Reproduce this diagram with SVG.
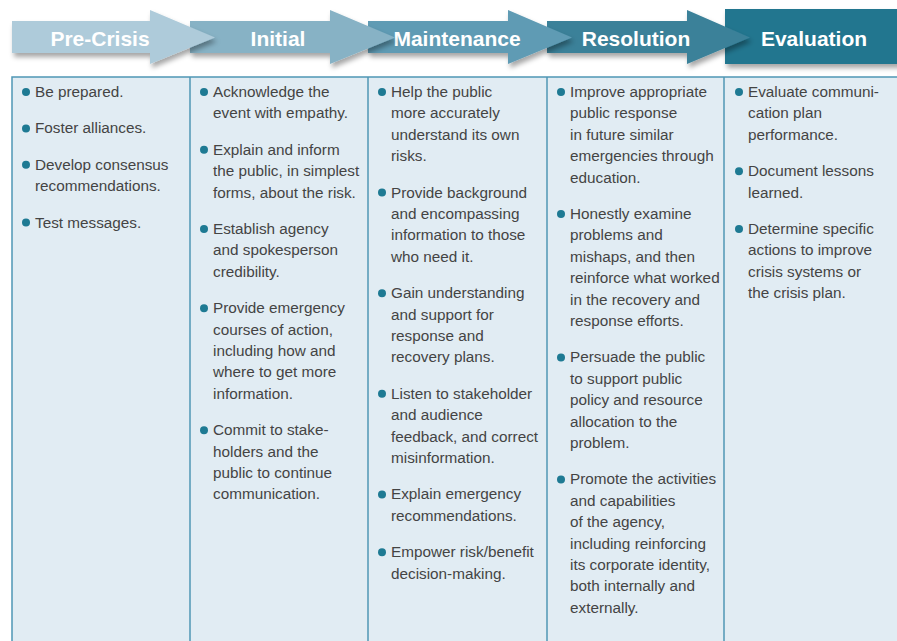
<svg xmlns="http://www.w3.org/2000/svg" width="897" height="641" viewBox="0 0 897 641">
<defs>
<filter id="sh" x="-10%" y="-20%" width="130%" height="160%">
<feDropShadow dx="2" dy="4" stdDeviation="2.5" flood-color="#000" flood-opacity="0.35"/>
</filter>
<style>
.hd{font-family:"Liberation Sans",Arial,Helvetica,sans-serif;font-size:21px;font-weight:bold;fill:#fff;text-anchor:middle}
.tx{font-family:"Liberation Sans",Arial,Helvetica,sans-serif;font-size:15.3px;fill:#444}
.bl{fill:#1e7a93}
.col{fill:#e1ecf3;stroke:#4f97b5;stroke-width:1.5}
</style>
</defs>
<rect width="897" height="641" fill="#fff"/>

<g id="table">
<rect class="col" x="12" y="77" width="900" height="580"/>
<line x1="190" y1="77" x2="190" y2="641" stroke="#4f97b5" stroke-width="1.5"/>
<line x1="368" y1="77" x2="368" y2="641" stroke="#4f97b5" stroke-width="1.5"/>
<line x1="547" y1="77" x2="547" y2="641" stroke="#4f97b5" stroke-width="1.5"/>
<line x1="724" y1="77" x2="724" y2="641" stroke="#4f97b5" stroke-width="1.5"/>
</g>

<g id="header">
<g id="evaluation">
<rect x="725" y="9" width="180" height="55" fill="#20768f" filter="url(#sh)"/>
<text class="hd" x="814" y="46">Evaluation</text>
</g>
<g id="resolution">
<polygon points="547,21 687,21 687,10 750,37.5 687,64 687,53 547,53" fill="#3a8199" filter="url(#sh)"/>
<text class="hd" x="636" y="46">Resolution</text>
</g>
<g id="maintenance">
<polygon points="368,21 508,21 508,10 572,37.5 508,64 508,53 368,53" fill="#5f9bb4" filter="url(#sh)"/>
<text class="hd" x="457" y="46">Maintenance</text>
</g>
<g id="initial">
<polygon points="190,21 330,21 330,10 395,37.5 330,64 330,53 190,53" fill="#87b2c5" filter="url(#sh)"/>
<text class="hd" x="278" y="46">Initial</text>
</g>
<g id="precrisis">
<polygon points="12,21 150,21 150,10 215,37.5 150,64 150,53 12,53" fill="#aecbda" filter="url(#sh)"/>
<text class="hd" x="100" y="46">Pre-Crisis</text>
</g>
</g>

<g id="col-precrisis">
<circle class="bl" cx="26" cy="92" r="4"/>
<circle class="bl" cx="26" cy="128.4" r="4"/>
<circle class="bl" cx="26" cy="164.8" r="4"/>
<circle class="bl" cx="26" cy="222.6" r="4"/>
<text class="tx">
<tspan x="35" y="97">Be prepared.</tspan>
<tspan x="35" y="133.4">Foster alliances.</tspan>
<tspan x="35" y="169.8">Develop consensus</tspan>
<tspan x="35" y="191.2">recommendations.</tspan>
<tspan x="35" y="227.6">Test messages.</tspan>
</text>
</g>

<g id="col-initial">
<circle class="bl" cx="204" cy="92" r="4"/>
<circle class="bl" cx="204" cy="149.8" r="4"/>
<circle class="bl" cx="204" cy="229" r="4"/>
<circle class="bl" cx="204" cy="308.2" r="4"/>
<circle class="bl" cx="204" cy="430.2" r="4"/>
<text class="tx">
<tspan x="213" y="97">Acknowledge the</tspan>
<tspan x="213" y="118.4">event with empathy.</tspan>
<tspan x="213" y="154.8">Explain and inform</tspan>
<tspan x="213" y="176.2">the public, in simplest</tspan>
<tspan x="213" y="197.6">forms, about the risk.</tspan>
<tspan x="213" y="234">Establish agency</tspan>
<tspan x="213" y="255.4">and spokesperson</tspan>
<tspan x="213" y="276.8">credibility.</tspan>
<tspan x="213" y="313.2">Provide emergency</tspan>
<tspan x="213" y="334.6">courses of action,</tspan>
<tspan x="213" y="356">including how and</tspan>
<tspan x="213" y="377.4">where to get more</tspan>
<tspan x="213" y="398.8">information.</tspan>
<tspan x="213" y="435.2">Commit to stake-</tspan>
<tspan x="213" y="456.6">holders and the</tspan>
<tspan x="213" y="478">public to continue</tspan>
<tspan x="213" y="499.4">communication.</tspan>
</text>
</g>

<g id="col-maintenance">
<circle class="bl" cx="382" cy="92" r="4"/>
<circle class="bl" cx="382" cy="192.6" r="4"/>
<circle class="bl" cx="382" cy="293.2" r="4"/>
<circle class="bl" cx="382" cy="393.8" r="4"/>
<circle class="bl" cx="382" cy="494.4" r="4"/>
<circle class="bl" cx="382" cy="552.2" r="4"/>
<text class="tx">
<tspan x="391" y="97">Help the public</tspan>
<tspan x="391" y="118.4">more accurately</tspan>
<tspan x="391" y="139.8">understand its own</tspan>
<tspan x="391" y="161.2">risks.</tspan>
<tspan x="391" y="197.6">Provide background</tspan>
<tspan x="391" y="219">and encompassing</tspan>
<tspan x="391" y="240.4">information to those</tspan>
<tspan x="391" y="261.8">who need it.</tspan>
<tspan x="391" y="298.2">Gain understanding</tspan>
<tspan x="391" y="319.6">and support for</tspan>
<tspan x="391" y="341">response and</tspan>
<tspan x="391" y="362.4">recovery plans.</tspan>
<tspan x="391" y="398.8">Listen to stakeholder</tspan>
<tspan x="391" y="420.2">and audience</tspan>
<tspan x="391" y="441.6">feedback, and correct</tspan>
<tspan x="391" y="463">misinformation.</tspan>
<tspan x="391" y="499.4">Explain emergency</tspan>
<tspan x="391" y="520.8">recommendations.</tspan>
<tspan x="391" y="557.2">Empower risk/benefit</tspan>
<tspan x="391" y="578.6">decision-making.</tspan>
</text>
</g>

<g id="col-resolution">
<circle class="bl" cx="561" cy="92" r="4"/>
<circle class="bl" cx="561" cy="214" r="4"/>
<circle class="bl" cx="561" cy="357.4" r="4"/>
<circle class="bl" cx="561" cy="479.4" r="4"/>
<text class="tx">
<tspan x="570" y="97">Improve appropriate</tspan>
<tspan x="570" y="118.4">public response</tspan>
<tspan x="570" y="139.8">in future similar</tspan>
<tspan x="570" y="161.2">emergencies through</tspan>
<tspan x="570" y="182.6">education.</tspan>
<tspan x="570" y="219">Honestly examine</tspan>
<tspan x="570" y="240.4">problems and</tspan>
<tspan x="570" y="261.8">mishaps, and then</tspan>
<tspan x="570" y="283.2">reinforce what worked</tspan>
<tspan x="570" y="304.6">in the recovery and</tspan>
<tspan x="570" y="326">response efforts.</tspan>
<tspan x="570" y="362.4">Persuade the public</tspan>
<tspan x="570" y="383.8">to support public</tspan>
<tspan x="570" y="405.2">policy and resource</tspan>
<tspan x="570" y="426.6">allocation to the</tspan>
<tspan x="570" y="448">problem.</tspan>
<tspan x="570" y="484.4">Promote the activities</tspan>
<tspan x="570" y="505.8">and capabilities</tspan>
<tspan x="570" y="527.2">of the agency,</tspan>
<tspan x="570" y="548.6">including reinforcing</tspan>
<tspan x="570" y="570">its corporate identity,</tspan>
<tspan x="570" y="591.4">both internally and</tspan>
<tspan x="570" y="612.8">externally.</tspan>
</text>
</g>

<g id="col-evaluation">
<circle class="bl" cx="739" cy="92" r="4"/>
<circle class="bl" cx="739" cy="171.2" r="4"/>
<circle class="bl" cx="739" cy="229" r="4"/>
<text class="tx">
<tspan x="748" y="97">Evaluate communi-</tspan>
<tspan x="748" y="118.4">cation plan</tspan>
<tspan x="748" y="139.8">performance.</tspan>
<tspan x="748" y="176.2">Document lessons</tspan>
<tspan x="748" y="197.6">learned.</tspan>
<tspan x="748" y="234">Determine specific</tspan>
<tspan x="748" y="255.4">actions to improve</tspan>
<tspan x="748" y="276.8">crisis systems or</tspan>
<tspan x="748" y="298.2">the crisis plan.</tspan>
</text>
</g>
</svg>
